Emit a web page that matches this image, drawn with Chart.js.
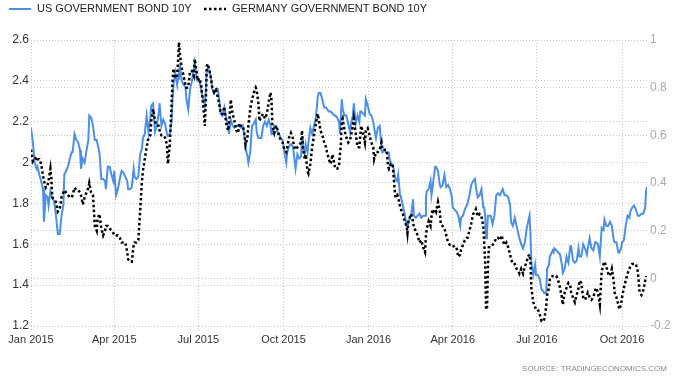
<!DOCTYPE html>
<html>
<head>
<meta charset="utf-8">
<script src="https://cdn.jsdelivr.net/npm/chart.js@4.4.1/dist/chart.umd.min.js"></script>
<style>
  html, body { margin: 0; padding: 0; background: #fff; }
  canvas { display: block; }
</style>
</head>
<body>
<canvas id="myChart" width="679" height="382"></canvas>
<script>
// days counted from 1 Jan 2015
const days = [
  0, 2, 4, 6, 7, 9, 11, 13, 14, 16, 18, 19, 21, 22, 23, 25, 27, 29, 31, 33,
  35, 36, 38, 40, 42, 44, 45, 47, 49, 51, 53, 54, 56, 58, 60, 62, 63, 65, 67, 69,
  71, 72, 74, 76, 78, 80, 81, 83, 85, 87, 89, 90, 92, 94, 96, 98, 100, 102, 104, 105,
  107, 109, 111, 112, 114, 116, 118, 120, 121, 123, 125, 127, 129, 130, 132, 134, 136, 138, 139, 141,
  143, 145, 147, 148, 150, 151, 152, 153, 154, 156, 158, 159, 160, 161, 163, 165, 167, 168, 170, 172,
  174, 176, 177, 179, 180, 182, 184, 185, 187, 188, 189, 190, 191, 193, 195, 196, 198, 200, 202, 204,
  205, 207, 209, 211, 213, 214, 216, 218, 220, 222, 224, 225, 227, 229, 231, 232, 234, 235, 237, 239,
  241, 243, 244, 246, 247, 249, 251, 253, 255, 257, 259, 260, 261, 263, 265, 267, 268, 270, 272, 274,
  276, 277, 279, 281, 283, 284, 286, 288, 290, 292, 293, 294, 296, 297, 299, 300, 302, 304, 306, 308,
  310, 311, 313, 315, 317, 319, 320, 322, 324, 326, 328, 329, 331, 333, 334, 335, 336, 337, 339, 341,
  343, 345, 346, 348, 349, 351, 353, 355, 356, 357, 359, 361, 362, 364, 366, 368, 370, 371, 373, 375,
  377, 379, 380, 382, 384, 385, 386, 387, 389, 391, 392, 393, 394, 396, 397, 399, 400, 402, 404, 406,
  407, 408, 410, 411, 413, 414, 416, 418, 420, 422, 424, 426, 427, 428, 430, 432, 433, 434, 435, 437,
  438, 440, 442, 443, 445, 447, 449, 451, 453, 455, 456, 458, 460, 462, 464, 465, 467, 469, 471, 472,
  474, 476, 478, 480, 481, 483, 485, 487, 489, 490, 491, 492, 493, 494, 495, 497, 499, 501, 503, 505,
  507, 509, 510, 512, 514, 516, 518, 519, 521, 523, 525, 527, 528, 530, 532, 534, 536, 537, 539, 540,
  541, 543, 545, 546, 548, 550, 552, 554, 555, 557, 558, 560, 561, 564, 565, 566, 568, 570, 572, 574,
  575, 577, 579, 581, 583, 584, 586, 588, 590, 592, 593, 595, 597, 599, 601, 602, 604, 606, 608, 610,
  611, 613, 615, 616, 617, 619, 620, 622, 624, 626, 628, 630, 631, 633, 635, 636, 638, 639, 641, 643,
  645, 647, 648, 650, 652, 654, 656, 657, 658, 660, 662, 664, 665, 666
];

const usYield = [
  2.17, 2.10, 2.00, 1.97, 1.98, 1.94, 1.91, 1.87, 1.71, 1.84, 1.83, 1.79, 1.86, 1.84, 1.83, 1.81, 1.74, 1.65, 1.65, 1.74,
  1.79, 1.94, 1.96, 1.98, 2.02, 2.05, 2.05, 2.14, 2.11, 2.10, 2.06, 1.97, 2.02, 2.00, 2.06, 2.11, 2.23, 2.22, 2.18, 2.11,
  2.11, 2.09, 2.05, 1.92, 1.92, 1.91, 1.87, 1.98, 1.98, 1.94, 1.91, 1.96, 1.84, 1.87, 1.92, 1.96, 1.95, 1.93, 1.91, 1.87,
  1.87, 1.88, 1.97, 1.93, 1.92, 1.93, 2.04, 2.07, 2.12, 2.14, 2.23, 2.15, 2.22, 2.28, 2.29, 2.15, 2.18, 2.24, 2.29, 2.18,
  2.21, 2.19, 2.14, 2.13, 2.14, 2.17, 2.20, 2.30, 2.38, 2.44, 2.38, 2.41, 2.45, 2.47, 2.40, 2.38, 2.37, 2.31, 2.26, 2.36,
  2.40, 2.46, 2.49, 2.41, 2.40, 2.40, 2.36, 2.33, 2.30, 2.28, 2.35, 2.45, 2.46, 2.45, 2.40, 2.36, 2.34, 2.36, 2.36, 2.29,
  2.24, 2.23, 2.27, 2.22, 2.18, 2.14, 2.21, 2.18, 2.17, 2.18, 2.18, 2.18, 2.17, 2.18, 2.12, 2.07, 2.03, 2.00, 2.05, 2.18,
  2.19, 2.21, 2.15, 2.12, 2.12, 2.12, 2.18, 2.20, 2.18, 2.21, 2.18, 2.14, 2.14, 2.18, 2.18, 2.14, 2.14, 2.12, 2.11, 2.05,
  2.00, 2.05, 2.08, 2.09, 2.08, 2.05, 1.97, 2.04, 2.02, 2.03, 2.12, 2.07, 2.04, 2.09, 2.05, 2.10, 2.17, 2.14, 2.18, 2.22,
  2.32, 2.34, 2.34, 2.31, 2.27, 2.27, 2.27, 2.25, 2.25, 2.24, 2.23, 2.23, 2.22, 2.20, 2.14, 2.22, 2.31, 2.26, 2.23, 2.23,
  2.19, 2.15, 2.19, 2.23, 2.29, 2.19, 2.23, 2.20, 2.25, 2.25, 2.24, 2.23, 2.31, 2.28, 2.24, 2.23, 2.20, 2.17, 2.12, 2.17,
  2.18, 2.06, 2.05, 2.06, 2.05, 2.05, 2.05, 2.03, 2.00, 1.99, 1.97, 1.94, 1.92, 1.91, 1.94, 1.84, 1.83, 1.79, 1.75, 1.69,
  1.69, 1.70, 1.74, 1.74, 1.82, 1.74, 1.73, 1.74, 1.75, 1.73, 1.74, 1.74, 1.83, 1.86, 1.87, 1.91, 1.84, 1.87, 1.91, 1.98,
  1.98, 1.96, 1.89, 1.88, 1.89, 1.94, 1.88, 1.89, 1.87, 1.83, 1.78, 1.77, 1.76, 1.74, 1.69, 1.73, 1.74, 1.77, 1.79, 1.80,
  1.84, 1.89, 1.91, 1.92, 1.88, 1.83, 1.84, 1.87, 1.78, 1.78, 1.74, 1.63, 1.65, 1.74, 1.74, 1.74, 1.70, 1.74, 1.84, 1.85,
  1.84, 1.86, 1.87, 1.84, 1.84, 1.83, 1.79, 1.71, 1.69, 1.73, 1.69, 1.65, 1.63, 1.60, 1.58, 1.61, 1.68, 1.70, 1.74, 1.65,
  1.51, 1.45, 1.50, 1.45, 1.45, 1.43, 1.38, 1.37, 1.36, 1.36, 1.48, 1.50, 1.54, 1.57, 1.56, 1.58, 1.57, 1.56, 1.55, 1.50,
  1.46, 1.48, 1.54, 1.51, 1.59, 1.59, 1.52, 1.51, 1.52, 1.58, 1.54, 1.54, 1.60, 1.58, 1.55, 1.58, 1.63, 1.58, 1.57, 1.61,
  1.61, 1.60, 1.54, 1.61, 1.68, 1.67, 1.72, 1.69, 1.69, 1.71, 1.69, 1.62, 1.61, 1.61, 1.56, 1.56, 1.58, 1.61, 1.62, 1.69,
  1.74, 1.73, 1.76, 1.78, 1.79, 1.77, 1.74, 1.74, 1.74, 1.75, 1.75, 1.78, 1.86, 1.88
];

const deYield = [
  0.54, 0.49, 0.50, 0.51, 0.50, 0.50, 0.48, 0.43, 0.41, 0.38, 0.39, 0.41, 0.46, 0.42, 0.34, 0.33, 0.32, 0.28, 0.29, 0.34,
  0.36, 0.37, 0.36, 0.35, 0.34, 0.34, 0.35, 0.38, 0.37, 0.37, 0.36, 0.35, 0.31, 0.34, 0.36, 0.38, 0.40, 0.36, 0.35, 0.22,
  0.20, 0.25, 0.27, 0.21, 0.18, 0.20, 0.22, 0.22, 0.21, 0.20, 0.19, 0.18, 0.18, 0.18, 0.17, 0.15, 0.15, 0.15, 0.11, 0.08,
  0.07, 0.07, 0.14, 0.15, 0.15, 0.16, 0.28, 0.41, 0.45, 0.50, 0.55, 0.59, 0.60, 0.66, 0.71, 0.66, 0.64, 0.64, 0.62, 0.60,
  0.60, 0.59, 0.56, 0.48, 0.56, 0.64, 0.73, 0.83, 0.88, 0.84, 0.85, 0.91, 0.99, 0.94, 0.88, 0.85, 0.81, 0.80, 0.80, 0.87,
  0.87, 0.85, 0.92, 0.87, 0.83, 0.84, 0.81, 0.77, 0.69, 0.64, 0.74, 0.89, 0.90, 0.87, 0.83, 0.80, 0.78, 0.79, 0.76, 0.72,
  0.69, 0.69, 0.72, 0.65, 0.62, 0.64, 0.75, 0.69, 0.66, 0.62, 0.61, 0.65, 0.64, 0.64, 0.60, 0.56, 0.59, 0.64, 0.71, 0.75,
  0.78, 0.80, 0.79, 0.73, 0.66, 0.68, 0.69, 0.67, 0.69, 0.74, 0.78, 0.75, 0.64, 0.61, 0.64, 0.62, 0.60, 0.58, 0.57, 0.54,
  0.53, 0.55, 0.59, 0.61, 0.59, 0.56, 0.54, 0.55, 0.56, 0.57, 0.62, 0.55, 0.50, 0.52, 0.45, 0.44, 0.48, 0.55, 0.60, 0.65,
  0.69, 0.67, 0.62, 0.60, 0.57, 0.55, 0.53, 0.50, 0.48, 0.52, 0.48, 0.46, 0.46, 0.47, 0.52, 0.56, 0.66, 0.67, 0.62, 0.59,
  0.57, 0.58, 0.60, 0.64, 0.67, 0.61, 0.55, 0.55, 0.60, 0.64, 0.61, 0.57, 0.62, 0.63, 0.60, 0.57, 0.55, 0.50, 0.53, 0.53,
  0.54, 0.57, 0.54, 0.54, 0.54, 0.52, 0.47, 0.46, 0.48, 0.48, 0.43, 0.38, 0.34, 0.35, 0.34, 0.30, 0.29, 0.27, 0.24, 0.22,
  0.19, 0.24, 0.26, 0.27, 0.24, 0.21, 0.20, 0.18, 0.15, 0.16, 0.13, 0.11, 0.18, 0.21, 0.24, 0.22, 0.26, 0.29, 0.28, 0.29,
  0.28, 0.32, 0.28, 0.23, 0.22, 0.21, 0.18, 0.15, 0.14, 0.14, 0.14, 0.13, 0.13, 0.09, 0.10, 0.12, 0.14, 0.16, 0.17, 0.17,
  0.20, 0.23, 0.27, 0.28, 0.29, 0.26, 0.27, 0.26, 0.22, 0.15, 0.07, -0.13, -0.13, 0.04, 0.13, 0.13, 0.14, 0.15, 0.17, 0.17,
  0.16, 0.18, 0.16, 0.14, 0.15, 0.13, 0.10, 0.08, 0.06, 0.06, 0.04, 0.03, 0.02, 0.04, 0.02, 0.05, 0.07, 0.09, 0.10, 0.07,
  -0.04, -0.10, -0.12, -0.13, -0.13, -0.15, -0.18, -0.18, -0.17, -0.12, -0.07, -0.04, 0.00, 0.01, 0.01, 0.01, 0.01, -0.01, -0.04, -0.08,
  -0.11, -0.06, -0.04, -0.02, -0.03, -0.06, -0.08, -0.10, -0.07, -0.04, -0.01, -0.02, -0.08, -0.09, -0.07, -0.06, -0.08, -0.09, -0.08, -0.05,
  -0.04, -0.06, -0.11, -0.04, 0.03, 0.06, 0.07, 0.05, 0.02, 0.01, 0.04, -0.01, -0.06, -0.08, -0.11, -0.13, -0.11, -0.08, -0.04, -0.01,
  0.02, 0.04, 0.05, 0.06, 0.06, 0.06, 0.03, -0.01, -0.06, -0.07, -0.05, -0.01, 0.01, null
];

const seriesNames = ["US GOVERNMENT BOND 10Y", "GERMANY GOVERNMENT BOND 10Y"];
const tickDays = [0, 90, 181, 273, 365, 456, 547, 639];
const tickLabels = ["Jan 2015", "Apr 2015", "Jul 2015", "Oct 2015", "Jan 2016", "Apr 2016", "Jul 2016", "Oct 2016"];
const leftTicks = [1.2, 1.4, 1.6, 1.8, 2, 2.2, 2.4, 2.6];
const rightTicks = [-0.2, 0, 0.2, 0.4, 0.6, 0.8, 1];
const sourceText = "SOURCE: TRADINGECONOMICS.COM";

const FONT = "'Liberation Sans', Arial, sans-serif";
const BLUE = "#4d8fe3";
const GRID = "#c8c8c8";

// legend + source line drawn by hand to match the original spacing
const extras = {
  id: "extras",
  afterDraw(chart) {
    const c = chart.ctx;
    c.save();
    c.font = "11px " + FONT;
    c.textBaseline = "middle";
    c.fillStyle = "#222";

    c.lineWidth = 2;
    c.strokeStyle = BLUE;
    c.setLineDash([]);
    c.beginPath();
    c.moveTo(9, 9);
    c.lineTo(31, 9);
    c.stroke();
    c.fillText(seriesNames[0], 37, 9);

    c.lineWidth = 2.5;
    c.strokeStyle = "#000";
    c.setLineDash([2.5, 2.5]);
    c.beginPath();
    c.moveTo(204, 9);
    c.lineTo(226, 9);
    c.stroke();
    c.setLineDash([]);
    c.fillText(seriesNames[1], 232, 9);

    c.font = "8px " + FONT;
    c.fillStyle = "#8a8a8a";
    c.textAlign = "right";
    c.fillText(sourceText, 667, 369);
    c.restore();
  }
};

const ctx = document.getElementById("myChart").getContext("2d");

new Chart(ctx, {
  type: "line",
  data: {
    datasets: [
      {
        label: seriesNames[1],
        data: days.map((d, i) => ({ x: d, y: deYield[i] })),
        yAxisID: "y1",
        borderColor: "#000",
        borderWidth: 2.5,
        borderDash: [2.5, 2.5],
        pointRadius: 0,
        tension: 0,
        order: 0,
      },
      {
        label: seriesNames[0],
        data: days.map((d, i) => ({ x: d, y: usYield[i] })),
        yAxisID: "y",
        borderColor: BLUE,
        borderWidth: 2,
        pointRadius: 0,
        tension: 0,
        order: 1,
      },
    ],
  },
  options: {
    responsive: false,
    animation: false,
    layout: { padding: { top: 40, bottom: 36, left: 0, right: 0 } },
    plugins: {
      legend: { display: false },
      tooltip: { enabled: false },
    },
    scales: {
      x: {
        type: "linear",
        min: 0,
        max: 666,
        afterBuildTicks: (s) => { s.ticks = tickDays.map((v) => ({ value: v })); },
        afterFit: (s) => { s.height = 20; },
        ticks: {
          autoSkip: false,
          maxRotation: 0,
          padding: 3,
          color: "#333",
          font: { family: FONT, size: 11 },
          callback: (v) => tickLabels[tickDays.indexOf(v)],
        },
        grid: { color: GRID, tickLength: 4, tickColor: GRID, tickBorderDash: [1, 2], drawTicks: true },
        border: { display: false, dash: [1, 2] },
      },
      y: {
        position: "left",
        min: 1.2,
        max: 2.6,
        afterBuildTicks: (s) => { s.ticks = leftTicks.map((v) => ({ value: v })); },
        afterFit: (s) => { s.width = 31; },
        ticks: {
          padding: 2,
          color: "#333",
          font: { family: FONT, size: 12 },
          callback: (v) => String(v),
        },
        grid: { color: GRID, drawTicks: false },
        border: { display: false, dash: [1, 2] },
      },
      y1: {
        position: "right",
        min: -0.2,
        max: 1,
        afterBuildTicks: (s) => { s.ticks = rightTicks.map((v) => ({ value: v })); },
        afterFit: (s) => { s.width = 32; },
        ticks: {
          padding: 3,
          color: "#aaa",
          font: { family: FONT, size: 12 },
          callback: (v) => String(v),
        },
        grid: { color: GRID, drawTicks: false },
        border: { display: false, dash: [1, 2] },
      },
    },
  },
  plugins: [extras],
});
</script>
</body>
</html>
